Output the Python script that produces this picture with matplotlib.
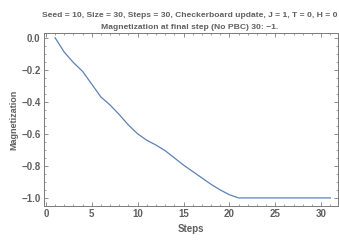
import matplotlib.pyplot as plt
import numpy as np
from matplotlib.ticker import MultipleLocator, FuncFormatter

# magnetization per step
steps = list(range(1, 32))
magnetization = [0.0, -0.09, -0.155, -0.21, -0.29, -0.37, -0.42, -0.48, -0.545, -0.60,
                 -0.64, -0.67, -0.705, -0.75, -0.795, -0.835, -0.875, -0.915, -0.95, -0.98,
                 -1.0, -1.0, -1.0, -1.0, -1.0, -1.0, -1.0, -1.0, -1.0, -1.0, -1.0]

title_lines = ["Seed = 10, Size = 30, Steps = 30, Checkerboard update, J = 1, T = 0, H = 0",
               "Magnetization at final step (No PBC) 30: \u22121."]

plt.rcParams['font.family'] = ['Liberation Sans', 'DejaVu Sans']
plt.rcParams['font.weight'] = 'bold'

text_col = '#5f5f5f'
frame_col = '#7a7a7a'
line_col = '#5e81b5'

fig = plt.figure(figsize=(3.39, 2.44), dpi=100)
ax = fig.add_axes([0.13, 0.156, 0.866, 0.709])

ax.plot(steps, magnetization, color=line_col, lw=0.9)

ax.set_xlim(-0.2, 31.8)
ax.set_ylim(-1.05, 0.03)

ax.xaxis.set_major_locator(MultipleLocator(5))
ax.xaxis.set_minor_locator(MultipleLocator(1))
ax.yaxis.set_major_locator(MultipleLocator(0.2))
ax.yaxis.set_minor_locator(MultipleLocator(0.05))
ax.yaxis.set_major_formatter(FuncFormatter(lambda v, p: ('%.1f' % v).replace('-', '\u2212') if abs(v) > 1e-9 else '0.0'))

ax.tick_params(which='both', direction='in', top=True, right=True, colors=frame_col,
               labelcolor=text_col, labelsize=7)
ax.tick_params(which='major', length=3, width=0.6, pad=2.5)
ax.tick_params(which='minor', length=1.6, width=0.5)
for lab in ax.get_xticklabels() + ax.get_yticklabels():
    lab.set_fontweight('bold')

for s in ax.spines.values():
    s.set_color(frame_col)
    s.set_linewidth(0.7)

ax.set_xlabel('Steps', fontsize=7, color=text_col, fontweight='bold', labelpad=3)
ax.set_ylabel('Magnetization', fontsize=6.5, color=text_col, fontweight='bold', labelpad=2)

fig.text(0.56, 0.936, title_lines[0], ha='center', va='center', fontsize=6.1,
         color=text_col, fontweight='bold')
fig.text(0.56, 0.888, title_lines[1], ha='center', va='center', fontsize=6.1,
         color=text_col, fontweight='bold')

fig.savefig('out.png', dpi=100)
